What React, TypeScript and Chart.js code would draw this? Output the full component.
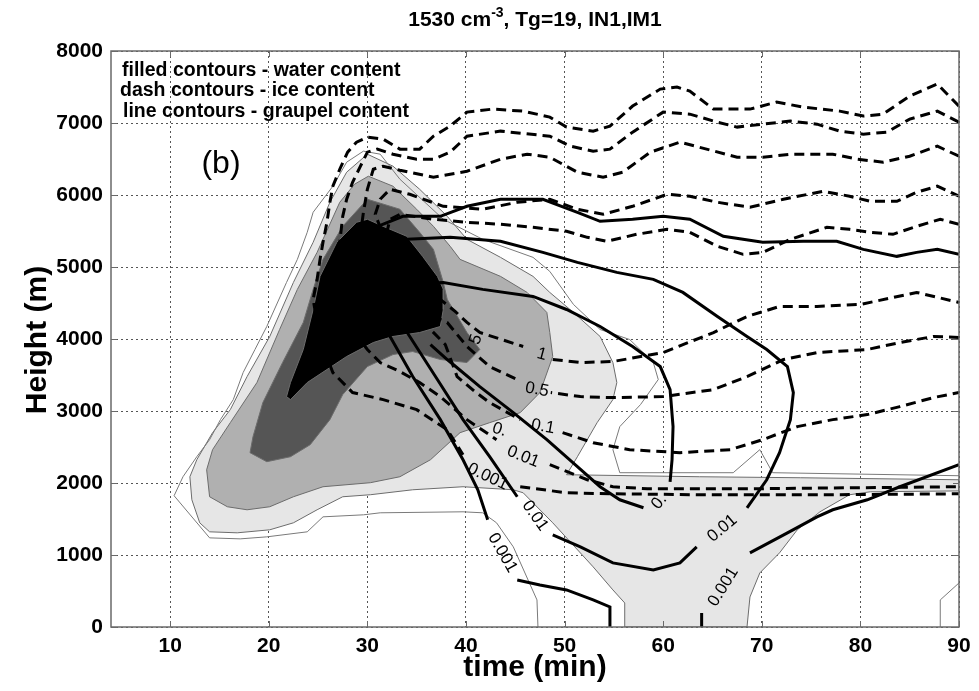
import React, { useEffect, useRef } from "react";
import { Chart, registerables } from "chart.js";

Chart.register(...registerables);

type P = [number, number] | null;

const xTicks = [10, 20, 30, 40, 50, 60, 70, 80, 90];
const yTicks = [0, 1000, 2000, 3000, 4000, 5000, 6000, 7000, 8000];

// ---- water content (filled contours) ----
const waterOuter: P[] = [[47.3,0],[47.2,376],[44.8,1113],[43.1,1447],[41.7,1586],[39.7,1600],[31.3,1586],[29.6,1558],[25.5,1530],[23.9,1322],[19.8,1252],[17.1,1224],[14.0,1238],[10.4,1823],[11.3,2087],[12.7,2365],[14.0,2602],[15.1,2880],[16.4,3158],[17.4,3534],[18.6,3854],[19.8,4174],[21.8,4786],[22.9,5106],[23.9,5482],[24.5,5760],[26.5,6122],[27.9,6456],[29.6,6609],[31.3,6567],[33.3,6219],[37.7,5663],[41.7,5384],[46.8,5134],[48.5,4939],[50.9,4480],[53.6,4132],[56.6,3993],[59.0,3673],[59.5,3437],[57.7,3089],[55.6,2783],[54.9,2463],[55.6,2143],[67.1,2143],[69.8,2463],[71.1,2143],[90,2101]];
const waterCorner: P[] = [[88.1,0],[88.1,376],[90,612]];
const waterLight: P[] = [[12.0,2087],[12.7,2323],[14.3,2699],[16.1,3019],[17.8,3478],[20.1,4035],[22.5,4786],[24.5,5343],[26.2,5899],[27.9,6317],[30.0,6567],[32.6,6400],[35.3,6080],[38.1,5704],[40.1,5384],[43.5,5134],[46.8,4870],[48.5,4647],[50.9,4369],[53.6,4035],[54.9,3673],[55.3,3395],[54.9,3158],[53.3,2838],[51.3,2365],[50.2,2115],[63.7,2087],[73.9,2073],[90,2045],[90,1890],[81.0,1878],[78.9,1837],[75.9,1600],[73.6,1350],[71.8,1030],[69.8,751],[68.8,417],[68.5,0],[56.1,0],[56.1,334],[54.9,515],[52.9,835],[48.8,1447],[45.8,1864],[44.8,1906],[39.7,1948],[34.6,1906],[30.3,1837],[27.5,1809],[24.9,1628],[22.5,1447],[20.1,1350],[16.8,1308],[14.0,1322],[13.0,1447],[12.2,1767],[12.0,2087]];
const waterMedium: P[] = [[13.7,2184],[14.3,2463],[16.1,2838],[18.8,3395],[21.1,4132],[22.9,4689],[24.9,5203],[27.2,5899],[28.7,6150],[30.1,6261],[32.6,6122],[35.0,5802],[36.7,5565],[38.4,5287],[39.4,5106],[43.5,4870],[46.2,4647],[48.2,4369],[48.5,4090],[48.8,3757],[47.5,3256],[45.5,2977],[42.4,2838],[39.4,2699],[36.4,2323],[33.3,2087],[30.3,2004],[25.5,1948],[22.5,1809],[20.1,1670],[17.8,1628],[15.8,1670],[14.0,1809],[13.7,2184]];
const waterDark: P[] = [[18.1,2421],[18.4,2643],[19.4,3117],[21.4,3673],[23.5,4230],[24.5,4689],[25.5,5106],[27.5,5565],[30.0,5941],[33.3,5802],[35.3,5482],[36.7,5245],[37.7,4786],[38.1,4550],[40.1,4090],[41.4,3854],[40.1,3673],[37.4,3715],[34.6,3826],[32.6,3784],[30.0,3617],[27.5,3228],[26.2,2880],[24.2,2532],[22.2,2365],[19.8,2296],[18.1,2421]];
const waterBlack: P[] = [[21.8,3200],[22.2,3395],[23.5,3854],[24.5,4410],[25.2,4870],[26.9,5343],[28.9,5621],[30.0,5663],[31.6,5565],[34.0,5426],[35.6,5148],[37.1,4870],[37.7,4689],[37.7,4410],[37.4,4174],[35.3,4090],[32.6,4035],[30.6,3951],[27.9,3757],[25.9,3576],[23.9,3395],[22.2,3158],[21.8,3200]];

// ---- ice content (dashed contours) ----
const ice0001: P[] = [[90,7235],[87.8,7541],[85.0,7374],[82.3,7123],[80.3,7096],[77.9,7165],[74.2,7221],[71.5,7290],[68.8,7193],[65.1,7193],[62.7,7443],[61.4,7499],[59.7,7471],[56.9,7235],[54.6,6957],[52.9,6887],[50.2,6943],[48.5,7082],[45.8,7165],[42.7,7193],[40.1,7151],[38.4,6957],[36.7,6817],[35.3,6637],[33.3,6637],[31.6,6776],[30.0,6803],[28.9,6734],[28.0,6595],[27.2,6358],[26.5,6122],[26.2,5899],[25.9,5621],[25.5,5343],[25.2,5106],[24.9,4828],[24.5,4550],[25.2,3993],[26.5,3534],[28.5,3256],[31.6,3158],[35.0,3019],[38.1,2741],[39.7,2393],null,[45.5,1948],[50.2,1864],[54.9,1850],[63.7,1837],[77.2,1837],[90,1850]];
const ice001: P[] = [[90,7012],[87.8,7165],[85.0,7054],[82.7,6873],[80.3,6845],[77.9,6887],[75.6,6984],[72.9,7026],[70.1,6984],[67.5,6943],[65.5,7012],[62.7,7123],[60.0,7151],[56.9,6873],[54.6,6637],[52.9,6609],[50.6,6678],[48.5,6817],[43.5,6887],[40.1,6817],[38.4,6595],[36.7,6497],[35.0,6497],[32.6,6567],[31.0,6637],[30.0,6595],[29.3,6400],[28.5,6177],[27.9,5941],[27.5,5704],[27.2,5343],[27.0,5106],[27.7,4271],[30.0,3854],[31.3,3673],[33.3,3548],[35.3,3395],[37.4,3200],[40.1,2880],[43.1,2602],null,[48.5,2254],[52.3,2045],[54.9,1948],[58.4,1920],[68.8,1920],[90,1948]];
const ice01: P[] = [[90,6539],[87.8,6678],[85.0,6539],[82.3,6456],[79.7,6497],[77.2,6567],[72.9,6567],[70.1,6525],[67.5,6525],[64.4,6637],[61.7,6734],[58.7,6595],[55.9,6317],[53.9,6247],[51.3,6317],[48.5,6525],[46.2,6567],[43.5,6497],[40.1,6330],[36.7,6247],[33.3,6344],[31.6,6400],[30.6,6358],[30.0,6080],[29.6,5760],[29.3,5454],[33.3,4550],[36.4,4132],[37.9,3923],[39.1,3478],[40.9,3270],[42.4,3117],[45.5,2880],null,[49.8,2699],[52.9,2560],[56.6,2463],[61.7,2421],[66.8,2463],[70.1,2602],[73.6,2783],[77.2,2880],[80.7,2950],[84.0,3061],[87.4,3186],[90,3256]];
const ice05: P[] = [[90,4021],[87.4,4035],[84.0,3951],[80.7,3854],[75.6,3812],[72.2,3715],[68.5,3478],[65.1,3297],[60.0,3200],[54.9,3186],[51.6,3200],[48.6,3256],null,[45.0,3450],[42.4,3617],[40.1,3896],[38.1,4230],[36.9,4299],[33.3,4828],[30.8,5732],[31.3,5941],[32.3,6080],[34.3,6010],[37.7,5843],[41.7,5802],[45.2,5899],[48.5,5941],[51.3,5802],[53.9,5732],[56.9,5843],[60.4,6010],[62.7,5983],[65.5,5899],[68.8,5830],[72.2,5941],[76.2,6052],[78.9,5983],[81.0,5913],[83.7,5913],[85.7,6038],[87.8,6122],[90,5983]];
const ice1: P[] = [[90,5593],[88.1,5663],[85.7,5565],[83.3,5454],[81.0,5482],[78.9,5523],[76.6,5551],[72.9,5384],[70.1,5203],[68.1,5176],[65.5,5287],[62.7,5482],[60.4,5523],[57.3,5454],[54.3,5357],[52.3,5412],[50.2,5496],[46.8,5551],[43.5,5593],[40.1,5621],[36.7,5663],[33.3,5732],[32.3,5663],[31.8,5384],[35.3,4689],[37.4,4550],[38.9,4383],[40.1,4230],[41.4,4090],[45.8,3896],null,[48.8,3715],[51.6,3673],[54.9,3687],[60.0,3812],[65.1,4090],[68.5,4313],[71.8,4452],[75.6,4452],[80.0,4480],[85.7,4647],[90,4508]];

// ---- graupel content (solid contours) ----
const graupel0001a: P[] = [[31.3,5579],[33.6,5704],[37.4,5704],[40.1,5843],[43.5,5941],[47.8,5941],[51.3,5760],[53.6,5635],[56.9,5663],[60.0,5704],[62.7,5663],[66.1,5426],[70.1,5343],[74.2,5357],[77.6,5357],[80.3,5245],[83.7,5148],[85.7,5203],[87.8,5245],[90,5176]];
const graupel0001b: P[] = [[90,2254],[84.0,1948],[80.7,1767],[77.2,1628],[75.6,1530],[72.6,1308],[68.8,1030],null,[63.9,195],[63.9,0]];
const graupel0001c: P[] = [[31.3,4271],[32.3,4035],[34.6,3478],[37.4,2880],[39.7,2323],[41.2,1906],[42.2,1489],null,[45.2,654],[47.5,584],[50.2,515],[52.9,376],[54.6,279],[54.6,0]];
const graupel001: P[] = [[31.8,5357],[34.0,5384],[38.4,5412],[43.5,5357],[47.8,5203],[51.3,5064],[55.3,4925],[59.0,4828],[62.0,4647],[65.5,4313],[68.5,4035],[70.5,3854],[72.6,3617],[73.2,3256],[72.9,2880],[71.8,2421],[70.5,2045],[68.5,1656],null,[63.4,1113],[61.7,890],[59.0,793],[54.9,890],[51.6,1113],[48.8,1280],null,[45.2,1809],[42.4,2365],[39.7,2880],[37.1,3437],[34.3,4035],[33.3,4243]];
const graupel01: P[] = [[35.3,4772],[37.7,4786],[41.7,4689],[46.8,4591],[50.2,4410],[53.6,4174],[56.9,3896],[59.7,3617],[60.7,3297],[61.0,2783],[60.9,2323],[60.7,2017],null,[58.0,1656],[55.6,1767],[53.6,1948],[51.3,2226],[48.2,2602],[44.8,2977],[41.4,3339],[38.1,3715],[36.4,3923]];

// contour labels: [time, height, text, rotation(deg)]
const iceLabels: [number, number, string, number][] = [
  [47.7, 3784, "1", 15],
  [47.2, 3297, "0.5", 10],
  [47.8, 2783, "0.1", 10],
  [43.4, 2741, "0.", 18],
  [45.8, 2365, "0.01", 22],
  [42.2, 2087, "0.001", 25],
  [41.0, 3993, "5", -70],
];
const graupelLabels: [number, number, string, number][] = [
  [66.1, 557, "0.001", -58],
  [66.0, 1370, "0.01", -40],
  [59.6, 1740, "0.", -50],
  [47.0, 1544, "0.01", 55],
  [43.7, 1030, "0.001", 60],
];

const legendLines = [
  "filled contours - water content",
  "dash contours - ice content",
  "line contours - graupel content",
];

const FONT = '"Liberation Sans", Arial, Helvetica, sans-serif';

const toXY = (arr: P[]) => arr.map((p) => (p ? { x: p[0], y: p[1] } : { x: null, y: null }));

const fillDs = (data: P[], color: string, order: number) => ({
  data: toXY(data),
  showLine: true,
  fill: "shape",
  backgroundColor: color,
  borderColor: "#6c6c6c",
  borderWidth: 1,
  pointRadius: 0,
  tension: 0,
  order,
});

const lineDs = (data: P[], dashed: boolean, width = 3, color = "#000", order = 1) => ({
  data: toXY(data),
  showLine: true,
  fill: false,
  borderColor: color,
  borderWidth: width,
  borderDash: dashed ? [10, 6] : [],
  pointRadius: 0,
  tension: 0,
  order,
});

const decorPlugin = {
  id: "decor",
  afterDatasetsDraw(chart: any) {
    const ctx = chart.ctx;
    const xs = chart.scales.x;
    const ys = chart.scales.y;
    const a = chart.chartArea;
    ctx.save();
    // axes box
    ctx.strokeStyle = "#6a6a6a";
    ctx.lineWidth = 1.5;
    ctx.setLineDash([]);
    ctx.strokeRect(a.left, a.top, a.right - a.left, a.bottom - a.top);
    // inward ticks
    ctx.lineWidth = 1;
    ctx.beginPath();
    xTicks.forEach((v) => {
      const px = Math.round(xs.getPixelForValue(v)) + 0.5;
      ctx.moveTo(px, a.bottom); ctx.lineTo(px, a.bottom - 6);
      ctx.moveTo(px, a.top); ctx.lineTo(px, a.top + 6);
    });
    yTicks.forEach((v) => {
      const py = Math.round(ys.getPixelForValue(v)) + 0.5;
      ctx.moveTo(a.left, py); ctx.lineTo(a.left + 6, py);
      ctx.moveTo(a.right, py); ctx.lineTo(a.right - 6, py);
    });
    ctx.stroke();

    // contour labels
    ctx.fillStyle = "#000";
    ctx.font = `17px ${FONT}`;
    ctx.textAlign = "center";
    ctx.textBaseline = "middle";
    [...iceLabels, ...graupelLabels].forEach(([t, h, txt, rot]) => {
      ctx.save();
      ctx.translate(xs.getPixelForValue(t), ys.getPixelForValue(h));
      ctx.rotate((rot * Math.PI) / 180);
      ctx.fillText(txt, 0, 0);
      ctx.restore();
    });

    // legend text
    ctx.textAlign = "left";
    ctx.textBaseline = "alphabetic";
    ctx.font = `bold 19.5px ${FONT}`;
    const lx = [122, 120, 123];
    const ly = [76, 96, 117];
    legendLines.forEach((s, i) => ctx.fillText(s, lx[i], ly[i]));

    // panel tag
    ctx.font = `32px ${FONT}`;
    ctx.textAlign = "center";
    ctx.textBaseline = "middle";
    ctx.fillText("(b)", 221, 164);
    ctx.restore();
  },
  afterDraw(chart: any) {
    const ctx = chart.ctx;
    const a = chart.chartArea;
    const cx = (a.left + a.right) / 2;
    ctx.save();
    ctx.fillStyle = "#000";
    // title with superscript
    const big = `bold 21px ${FONT}`;
    const small = `bold 14px ${FONT}`;
    const p1 = "1530 cm";
    const sup = "-3";
    const p2 = ", Tg=19, IN1,IM1";
    ctx.font = big;
    const w1 = ctx.measureText(p1).width;
    const w3 = ctx.measureText(p2).width;
    ctx.font = small;
    const w2 = ctx.measureText(sup).width;
    const x0 = cx - (w1 + w2 + w3) / 2;
    const base = 26;
    ctx.textAlign = "left";
    ctx.textBaseline = "alphabetic";
    ctx.font = big;
    ctx.fillText(p1, x0, base);
    ctx.font = small;
    ctx.fillText(sup, x0 + w1, base - 9);
    ctx.font = big;
    ctx.fillText(p2, x0 + w1 + w2, base);

    // axis titles
    ctx.font = `bold 30px ${FONT}`;
    ctx.textAlign = "center";
    ctx.textBaseline = "middle";
    ctx.fillText("time (min)", cx, 668);
    ctx.save();
    ctx.translate(38, 340);
    ctx.rotate(-Math.PI / 2);
    ctx.fillText("Height (m)", 0, 0);
    ctx.restore();
    ctx.restore();
  },
};

export default function App() {
  const ref = useRef<HTMLCanvasElement>(null);
  useEffect(() => {
    const canvas = ref.current;
    if (!canvas) return;
    const datasets: any[] = [
      fillDs(waterLight, "#e6e6e6", 20),
      fillDs(waterMedium, "#b0b0b0", 19),
      fillDs(waterDark, "#555555", 18),
      fillDs(waterBlack, "#000000", 17),
      lineDs(waterOuter, false, 1, "#7a7a7a", 16),
      lineDs(waterCorner, false, 1, "#7a7a7a", 16),
      lineDs(ice0001, true),
      lineDs(ice001, true),
      lineDs(ice01, true),
      lineDs(ice05, true),
      lineDs(ice1, true),
      lineDs(graupel0001a, false),
      lineDs(graupel0001b, false),
      lineDs(graupel0001c, false),
      lineDs(graupel001, false),
      lineDs(graupel01, false),
    ];
    const tickFont = { family: FONT, size: 21, weight: "bold" as const };
    const plain = (v: any) => String(v);
    const chart = new Chart(canvas, {
      type: "scatter",
      data: { datasets },
      plugins: [decorPlugin],
      options: {
        animation: false,
        responsive: false,
        events: [],
        layout: { padding: { left: 0, right: 20, top: 51, bottom: 0 } },
        plugins: {
          legend: { display: false },
          tooltip: { enabled: false },
          title: { display: false },
        },
        scales: {
          x: {
            type: "linear",
            min: 4,
            max: 90,
            afterBuildTicks: (s: any) => {
              s.ticks = xTicks.map((v) => ({ value: v }));
            },
            afterFit: (s: any) => {
              s.height = 64;
            },
            grid: { color: "#555", lineWidth: 1, drawTicks: false },
            border: { display: false, dash: [2, 3] },
            ticks: { color: "#000", font: tickFont, padding: 7, maxRotation: 0, autoSkip: false, callback: plain },
          },
          y: {
            type: "linear",
            min: 0,
            max: 8000,
            afterBuildTicks: (s: any) => {
              s.ticks = yTicks.map((v) => ({ value: v }));
            },
            afterFit: (s: any) => {
              s.width = 111;
            },
            grid: { color: "#555", lineWidth: 1, drawTicks: false },
            border: { display: false, dash: [2, 3] },
            ticks: { color: "#000", font: tickFont, padding: 8, autoSkip: false, callback: plain },
          },
        },
      } as any,
    });
    return () => chart.destroy();
  }, []);
  return (
    <div style={{ position: "fixed", left: 0, top: 0, width: 979, height: 691, background: "#fff" }}>
      <canvas ref={ref} width={979} height={691} style={{ display: "block" }} />
    </div>
  );
}
